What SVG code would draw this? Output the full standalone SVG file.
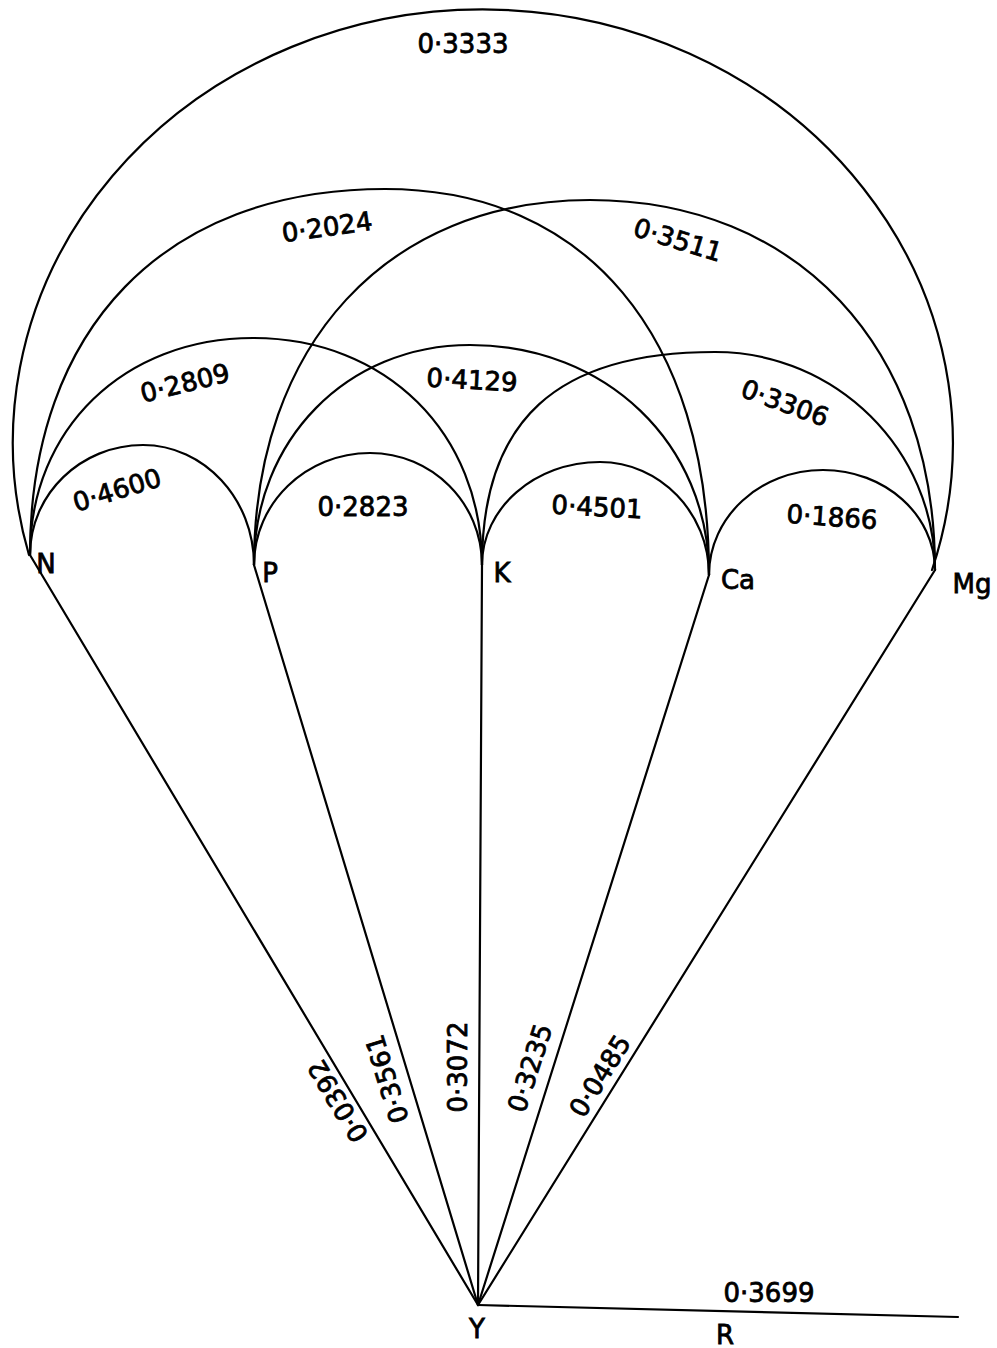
<svg xmlns="http://www.w3.org/2000/svg" width="997" height="1348" viewBox="0 0 997 1348">
  <style>
    .edge { fill: none; stroke: #000; stroke-width: 2.2; stroke-linecap: round; stroke-linejoin: round; }
    .val { font-family: "DejaVu Sans", "Liberation Sans", sans-serif; font-size: 26px; fill: #000; stroke: #000; stroke-width: 0.8; text-anchor: middle; dominant-baseline: central; }
    .lbl { font-family: "DejaVu Sans", "Liberation Sans", sans-serif; font-size: 26px; fill: #000; stroke: #000; stroke-width: 0.8; text-anchor: middle; }
  </style>
  <rect width="997" height="1348" fill="#fff"/>

  <!-- connectors: arcs between elements and rays to Y -->
  <g id="connectors">
    <!-- adjacent pairs -->
    <path class="edge" d="M30,555 C30,494 81,445 143,445 C204,445 254,499 254,565"/>
    <path class="edge" d="M254,565 C254,503 306,453 370,453 C432,453 482,503 482,565"/>
    <path class="edge" d="M482,565 C482,508 535,462 600,462 C660,462 709,513 709,575"/>
    <path class="edge" d="M709,575 C709,517 760,470 823,470 C885,470 935,515 935,570"/>
    <!-- pairs two apart -->
    <path class="edge" d="M30,555 C30,429 124,338 253,338 C386,338 482,433 482,565"/>
    <path class="edge" d="M254,565 C254,440 347,345 470,345 C606,345 709,444 709,575"/>
    <path class="edge" d="M482,565 C482,420 557,352 715,352 C836,352 935,450 935,570"/>
    <!-- pairs three apart -->
    <path class="edge" d="M30,555 C30,328 165,189 385,189 C586,189 709,336 709,575"/>
    <path class="edge" d="M254,565 C254,344 388,200 590,200 C797,200 935,346 935,570"/>
    <!-- N to Mg -->
    <path class="edge" d="M29,555 A470,433 0 1 1 932,570"/>
    <!-- rays to Y and the R line -->
    <line class="edge" x1="30" y1="555" x2="478" y2="1305"/>
    <line class="edge" x1="254" y1="565" x2="478" y2="1305"/>
    <line class="edge" x1="482" y1="565" x2="478" y2="1305"/>
    <line class="edge" x1="709" y1="575" x2="478" y2="1305"/>
    <line class="edge" x1="935" y1="570" x2="478" y2="1305"/>
    <line class="edge" x1="478" y1="1305" x2="958" y2="1317"/>

    <!-- coefficients -->
    <text class="val" transform="translate(463,44)">0·3333</text>
    <text class="val" transform="translate(327,227) rotate(-8)">0·2024</text>
    <text class="val" transform="translate(678,240) rotate(17)">0·3511</text>
    <text class="val" transform="translate(185,383) rotate(-14)">0·2809</text>
    <text class="val" transform="translate(472,380) rotate(3)">0·4129</text>
    <text class="val" transform="translate(785,403) rotate(20)">0·3306</text>
    <text class="val" transform="translate(117,490) rotate(-17)">0·4600</text>
    <text class="val" transform="translate(363,507)">0·2823</text>
    <text class="val" transform="translate(597,507) rotate(3)">0·4501</text>
    <text class="val" transform="translate(832,517) rotate(4)">0·1866</text>
    <text class="val" transform="translate(338,1101) rotate(-121)">0·0392</text>
    <text class="val" transform="translate(387,1079) rotate(-107)">0·3561</text>
    <text class="val" transform="translate(458,1067) rotate(-90)">0·3072</text>
    <text class="val" transform="translate(530,1068) rotate(-72)">0·3235</text>
    <text class="val" transform="translate(600,1076) rotate(-58)">0·0485</text>
    <text class="val" transform="translate(769,1293)">0·3699</text>
  </g>

  <!-- nodes -->
  <g id="node-N"><text class="lbl" x="46" y="573">N</text></g>
  <g id="node-P"><text class="lbl" x="270" y="582">P</text></g>
  <g id="node-K"><text class="lbl" x="502" y="582">K</text></g>
  <g id="node-Ca"><text class="lbl" x="738" y="589">Ca</text></g>
  <g id="node-Mg"><text class="lbl" x="972" y="593">Mg</text></g>
  <g id="node-Y"><text class="lbl" x="477" y="1338">Y</text></g>
  <g id="node-R"><text class="lbl" x="725" y="1344">R</text></g>
</svg>
